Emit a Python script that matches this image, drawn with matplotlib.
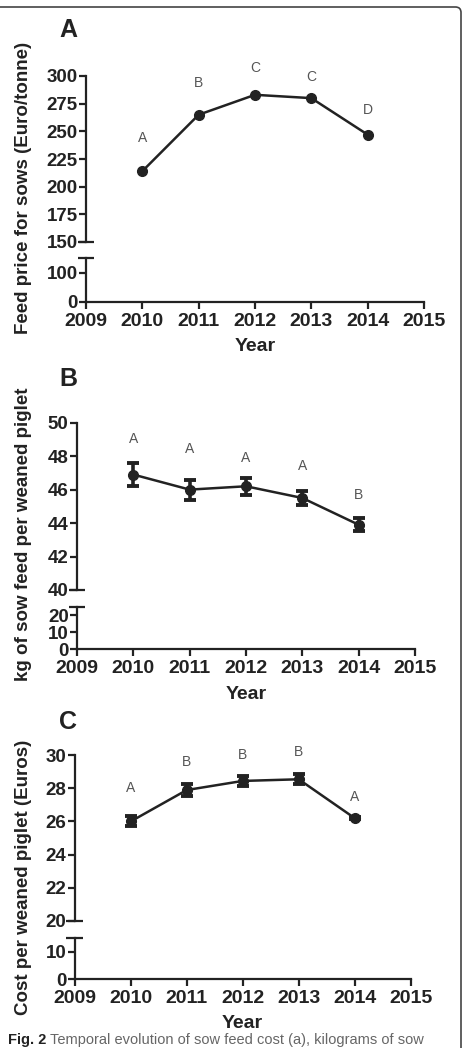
import matplotlib
matplotlib.use("Agg")
import matplotlib.pyplot as plt
from matplotlib.patches import FancyBboxPatch

plt.rcParams["font.family"] = ["Liberation Sans", "DejaVu Sans"]

W, H = 463, 1048
DARK = "#222222"
GRAY = "#555555"

years = [2010, 2011, 2012, 2013, 2014]
x_ticks = [2009, 2010, 2011, 2012, 2013, 2014, 2015]

# A: feed price (Euro/tonne)
price = [214, 265, 283, 280, 247]
price_letters = ["A", "B", "C", "C", "D"]
price_letter_y = [244, 294, 307, 299, 269]

# B: kg of sow feed per weaned piglet
feed = [46.9, 46.0, 46.2, 45.5, 43.9]
feed_err = [0.7, 0.6, 0.5, 0.4, 0.4]
feed_letters = ["A", "A", "A", "A", "B"]
feed_letter_y = [49.0, 48.4, 47.9, 47.4, 45.7]

# C: cost per weaned piglet (Euros)
cost = [26.0, 27.9, 28.45, 28.55, 26.2]
cost_err = [0.3, 0.35, 0.3, 0.3, 0.04]
cost_letters = ["A", "B", "B", "B", "A"]
cost_letter_y = [28.0, 29.6, 30.0, 30.2, 27.5]

fig = plt.figure(figsize=(W / 100, H / 100), dpi=100)


def px_axes(x0, y0, x1, y1):
    return fig.add_axes([x0 / W, 1 - y1 / H, (x1 - x0) / W, (y1 - y0) / H])


def style(ax):
    for s in ["top", "right"]:
        ax.spines[s].set_visible(False)
    for s in ["left", "bottom"]:
        ax.spines[s].set_linewidth(1.6)
        ax.spines[s].set_color(DARK)
    ax.tick_params(axis="both", direction="out", length=5, width=1.6,
                   color=DARK, labelcolor=DARK)
    ax.tick_params(axis="y", labelsize=13.5, pad=1)
    ax.tick_params(axis="x", labelsize=14, pad=3)
    for lab in ax.get_yticklabels() + ax.get_xticklabels():
        lab.set_fontweight("bold")
    ax.patch.set_alpha(0)


def cap(ax, yfrac):
    ax.plot([-0.025, 0.025], [yfrac, yfrac], transform=ax.transAxes,
            color=DARK, lw=1.6, clip_on=False, solid_capstyle="butt")


def panel(x0, x1, up_top, up_bot, low_top, low_bot, up_lim, up_ticks,
          low_lim, low_ticks, vals, errs, letters, letter_y, tag, tag_y,
          ylabel, label_y):
    up = px_axes(x0, up_top, x1, up_bot)
    low = px_axes(x0, low_top, x1, low_bot)
    for ax in (up, low):
        ax.set_xlim(2009, 2015)
    up.set_ylim(*up_lim)
    up.set_yticks(up_ticks)
    low.set_ylim(*low_lim)
    low.set_yticks(low_ticks)
    up.set_xticks([])
    up.spines["bottom"].set_visible(False)
    low.set_xticks(x_ticks)
    style(up)
    style(low)
    low.set_xlabel("Year", fontsize=14, fontweight="bold", color=DARK,
                   labelpad=6)
    cap(up, 0)
    cap(low, 1)

    if errs is None:
        up.plot(years, vals, color=DARK, lw=1.8, marker="o", ms=7,
                clip_on=False)
    else:
        up.errorbar(years, vals, yerr=errs, color=DARK, lw=1.8, marker="o",
                    ms=7, elinewidth=2.6, capsize=4, capthick=2.8,
                    clip_on=False)
    for x, t, y in zip(years, letters, letter_y):
        up.text(x, y, t, ha="center", va="center", fontsize=10, color=GRAY)

    fig.text(68 / W, 1 - tag_y / H, tag, ha="center", va="center",
             fontsize=18, fontweight="bold", color=DARK)
    fig.text(24 / W, 1 - label_y / H, ylabel, rotation=90, ha="center",
             va="center", fontsize=13.5, fontweight="bold", color=DARK)


panel(86, 424, 76, 242, 258.5, 302, (150, 300), [150, 175, 200, 225, 250, 275, 300],
      (0, 150), [0, 100], price, None, price_letters, price_letter_y,
      "A", 30, "Feed price for sows (Euro/tonne)", 188)

panel(77, 415, 422.7, 590, 606.8, 649.3, (40, 50), [40, 42, 44, 46, 48, 50],
      (0, 25), [0, 10, 20], feed, feed_err, feed_letters, feed_letter_y,
      "B", 379, "kg of sow feed per weaned piglet", 534)

panel(74.7, 410.7, 755.3, 920.7, 938, 979, (20, 30), [20, 22, 24, 26, 28, 30],
      (0, 15), [0, 10], cost, cost_err, cost_letters, cost_letter_y,
      "C", 722, "Cost per weaned piglet (Euros)", 877)

# rounded frame around the figure
frame = FancyBboxPatch((-20 / W, -0.2), (461 + 20) / W, (1 - 7 / H) + 0.2,
                       boxstyle="round,pad=0,rounding_size=0.012",
                       transform=fig.transFigure, fill=False,
                       edgecolor="#444444", lw=1.2, mutation_aspect=W / H)
fig.patches.append(frame)

# caption at the bottom edge
fig.text(8 / W, 1 / H, "Fig. 2", fontsize=10.5, fontweight="bold",
         color=DARK, va="bottom")
fig.text(50 / W, 1 / H,
         "Temporal evolution of sow feed cost (a), kilograms of sow",
         fontsize=10.5, color="#666666", va="bottom")

fig.savefig("out.png", dpi=100)
